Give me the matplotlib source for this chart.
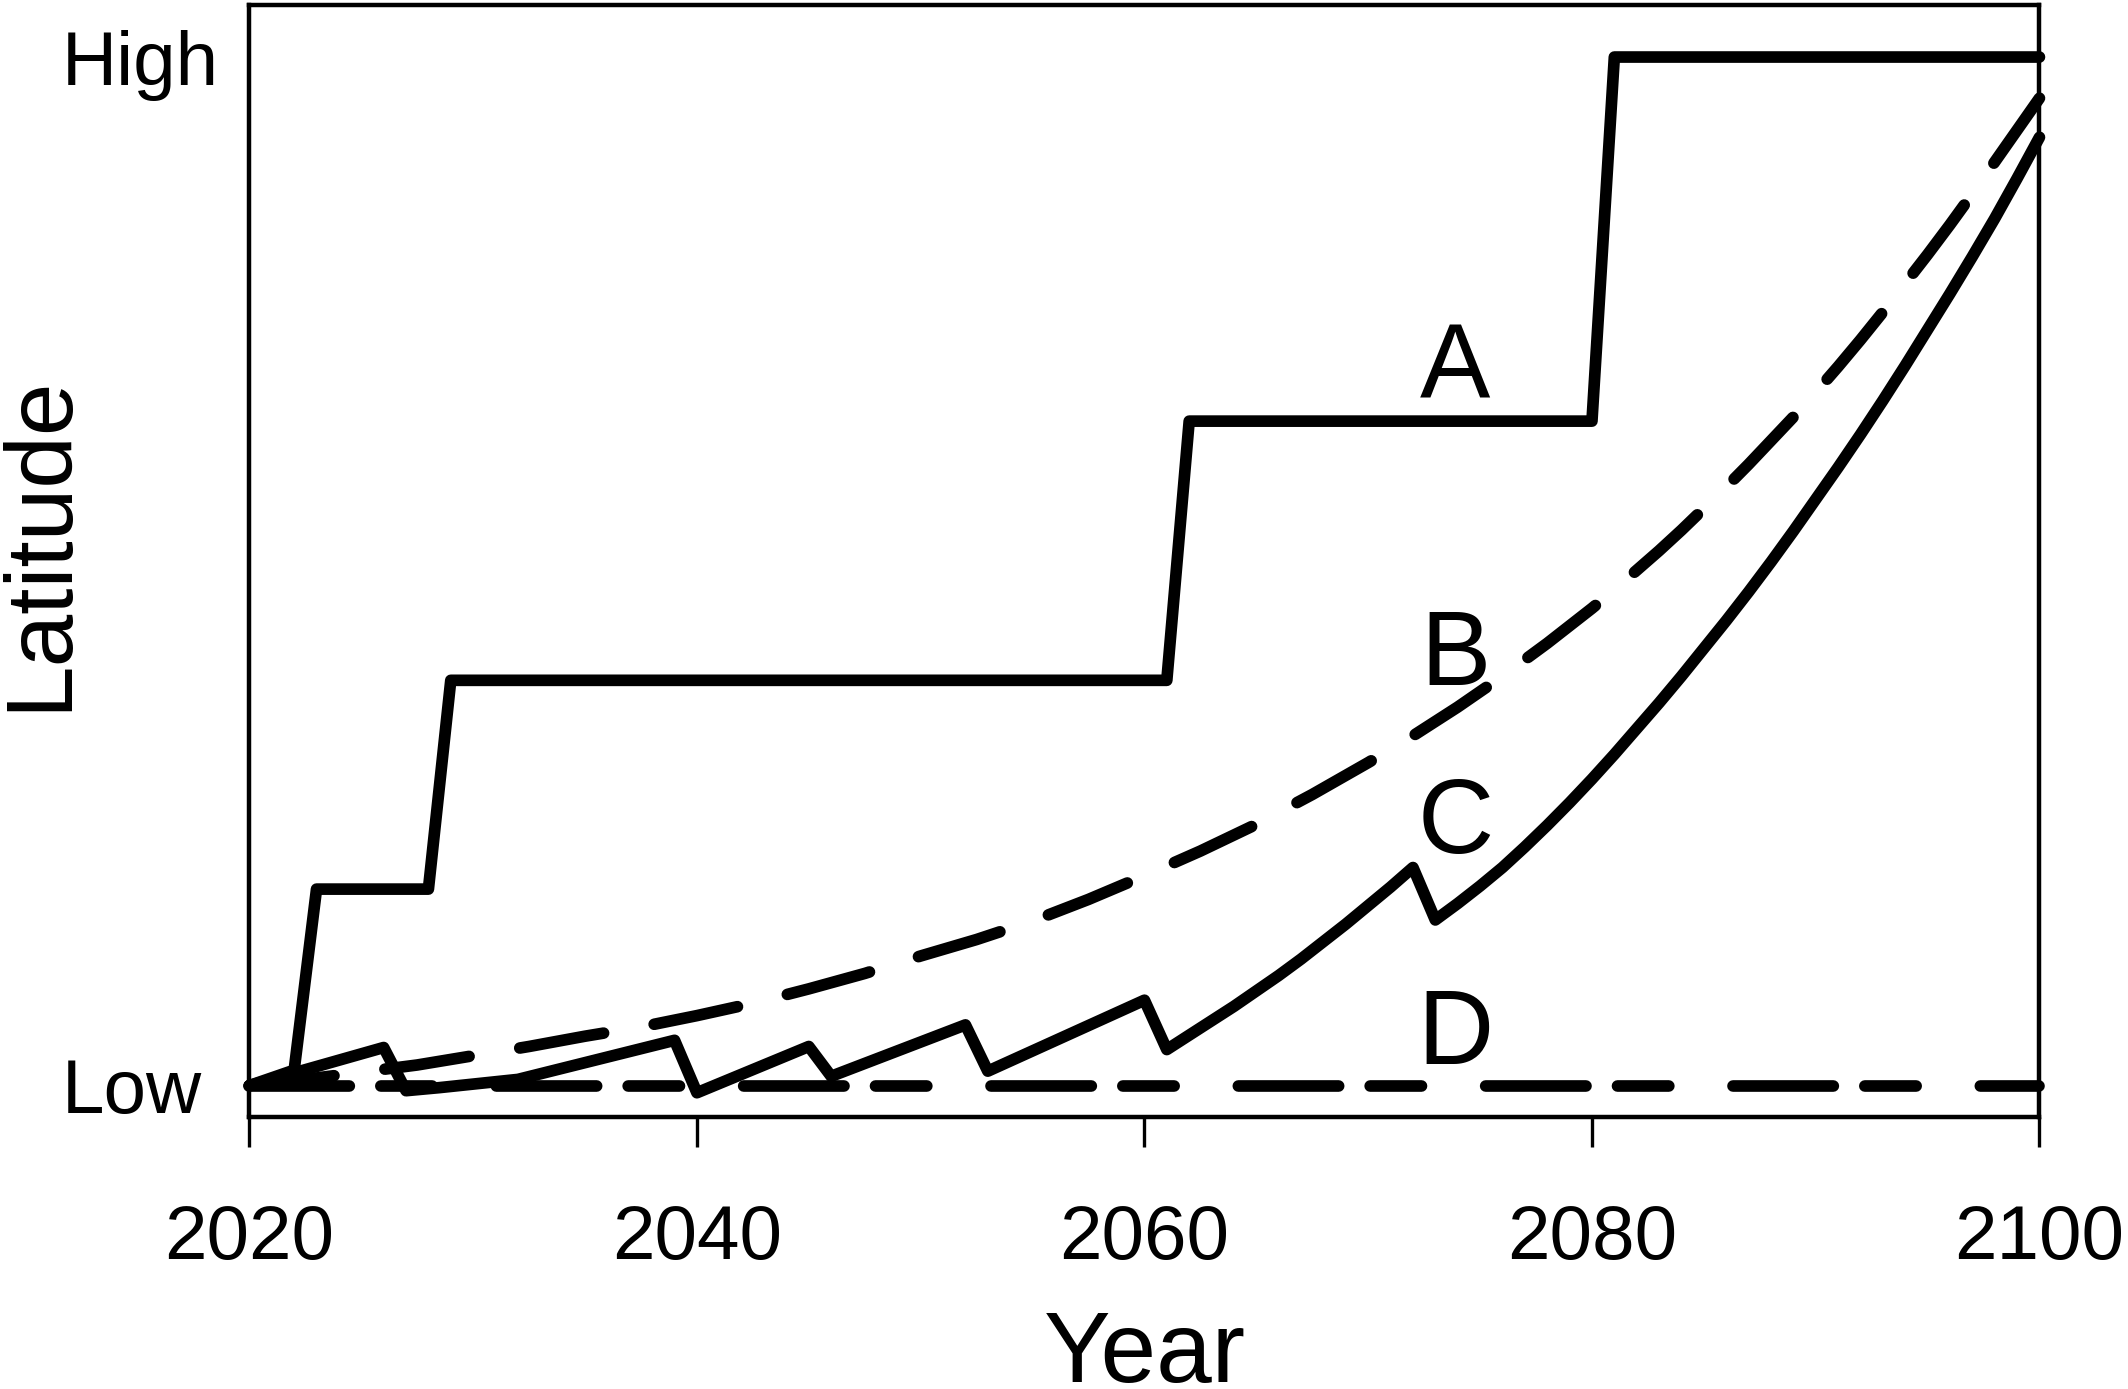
import matplotlib
matplotlib.use('Agg')
import matplotlib.pyplot as plt

plt.rcParams['font.family'] = ['Liberation Sans', 'DejaVu Sans']

# ---- data (Low = 0, High = 1) ----
years_A = [2020, 2022, 2023, 2028, 2029, 2061, 2062, 2080, 2081, 2100]
lat_A = [0.0, 0.015, 0.191, 0.191, 0.394, 0.394, 0.646, 0.646, 1.0, 1.0]

years_B = [2020, 2022.5, 2025, 2027.5, 2030, 2032.5, 2035, 2037.5, 2040, 2042.5,
           2045, 2047.5, 2050, 2052.5, 2055, 2057.5, 2060, 2062.5, 2065, 2067.5,
           2070, 2071, 2072, 2073, 2074, 2075, 2076, 2077, 2078, 2079, 2080,
           2081, 2082, 2083, 2084, 2085, 2086, 2087, 2088, 2089, 2090,
           2091, 2092, 2093, 2094, 2095, 2096, 2097, 2098, 2099, 2100]
lat_B = [0.0, 0.006, 0.013, 0.020, 0.029, 0.038, 0.048, 0.057, 0.068, 0.080,
         0.094, 0.109, 0.126, 0.142, 0.160, 0.181, 0.204, 0.228, 0.254, 0.283,
         0.314, 0.327, 0.340, 0.354, 0.368, 0.383, 0.398, 0.414, 0.430, 0.447, 0.464,
         0.482, 0.501, 0.520, 0.540, 0.561, 0.582, 0.604, 0.627, 0.650, 0.674,
         0.699, 0.725, 0.752, 0.780, 0.808, 0.837, 0.867, 0.898, 0.929, 0.960]

years_C = [2020, 2026, 2027, 2028.5, 2032, 2039, 2040, 2045, 2046, 2052, 2053,
           2060, 2061, 2062, 2063, 2064, 2065, 2066, 2067, 2068, 2069, 2070,
           2071, 2072, 2073, 2074, 2075, 2076, 2077, 2078, 2079, 2080,
           2081, 2082, 2083, 2084, 2085, 2086, 2087, 2088, 2089, 2090,
           2091, 2092, 2093, 2094, 2095, 2096, 2097, 2098, 2099, 2100]
lat_C = [0.0, 0.037, -0.005, -0.002, 0.006, 0.044, -0.007, 0.038, 0.009, 0.059, 0.014,
         0.083, 0.035, 0.049, 0.063, 0.077, 0.092, 0.107, 0.123, 0.140, 0.157, 0.175,
         0.193, 0.212, 0.161, 0.177, 0.194, 0.212, 0.232, 0.253, 0.275, 0.298,
         0.322, 0.347, 0.372, 0.398, 0.425, 0.452, 0.480, 0.509, 0.539, 0.570,
         0.601, 0.633, 0.666, 0.700, 0.735, 0.770, 0.806, 0.843, 0.882, 0.922]

years_D = [2020, 2100]
lat_D = [0.0, 0.0]

x_ticks = [2020, 2040, 2060, 2080, 2100]
y_tick_pos = [0, 1]
y_tick_labels = ['Low', 'High']
curve_names = ['A', 'B', 'C', 'D']
name_x = [2073.9, 2073.9, 2073.9, 2073.9]
name_y = [0.669, 0.389, 0.226, 0.0214]

# ---- figure ----
fig = plt.figure(figsize=(10.64, 6.945), dpi=200)
ax = fig.add_axes([0.1172, 0.1958, 0.8412, 0.8009])

lw = 4.2
common = dict(color='black', lw=lw, clip_on=False,
              solid_capstyle='round', solid_joinstyle='round',
              dash_capstyle='round', dash_joinstyle='round')
ax.plot(years_A, lat_A, **common)
ax.plot(years_B, lat_B, linestyle=(0, (7.3, 4.4)), **common)
ax.plot(years_C, lat_C, **common)
ax.plot(years_D, lat_D, linestyle=(0, (8.6, 2.7, 4.4, 5.5)), **common)

for name, x, y in zip(curve_names, name_x, name_y):
    ax.text(x, y, name, fontsize=38, ha='center', va='baseline')

ax.set_xlim(2020, 2100)
ax.set_ylim(-0.0306, 1.051)

for sp in ax.spines.values():
    sp.set_linewidth(1.6)

ax.set_xticks(x_ticks)
ax.set_xticklabels([str(t) for t in x_ticks])
ax.tick_params(axis='x', direction='out', length=10.8, width=1.2, pad=20.5,
               labelsize=27.5)

ax.set_yticks(y_tick_pos)
ax.set_yticklabels(y_tick_labels)
ax.tick_params(axis='y', length=0, pad=67.5, labelsize=27.5)
for lab in ax.get_yticklabels():
    lab.set_horizontalalignment('left')

ax.set_xlabel('Year', fontsize=36, va='baseline')
ax.xaxis.set_label_coords(0.5, -0.238)
ax.set_ylabel('Latitude', fontsize=34, va='baseline')
ax.yaxis.set_label_coords(-0.103, 0.516)

fig.savefig('out.png', dpi=200)
